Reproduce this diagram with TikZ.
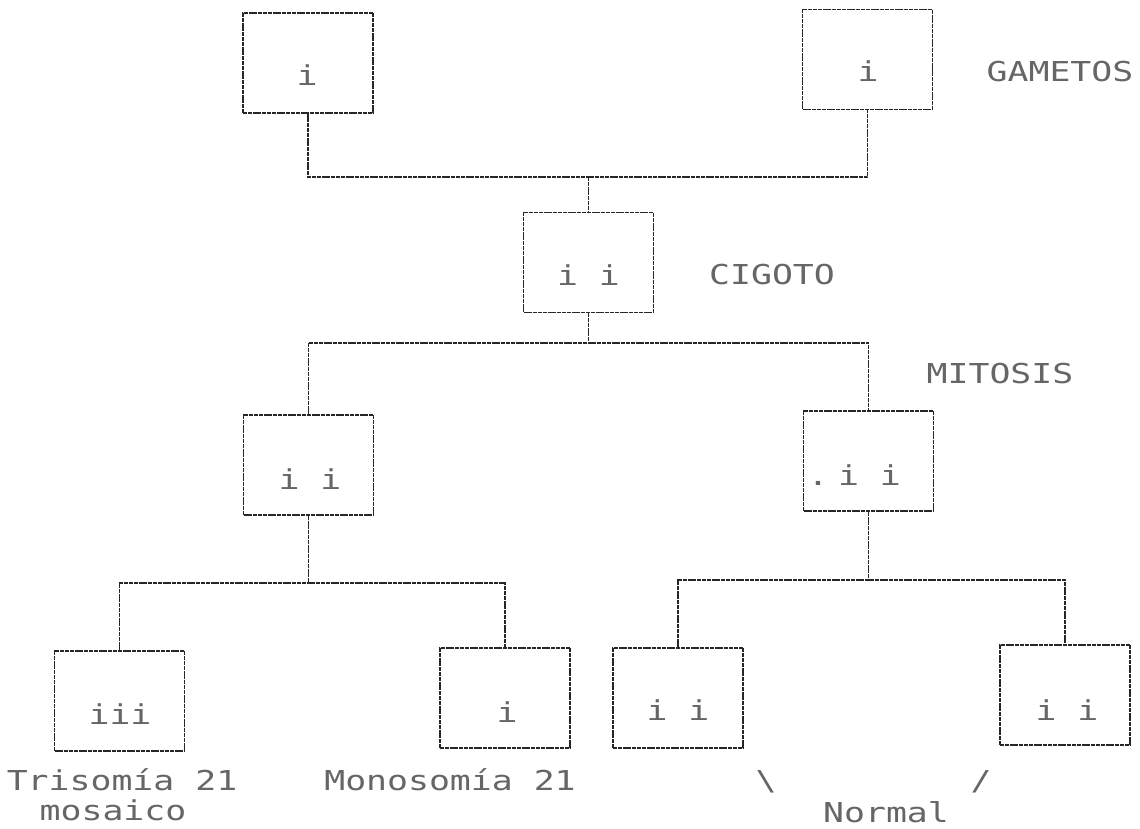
\documentclass[tikz,border=0pt]{standalone}
\usepackage{fontspec}
\usepackage{graphicx}
\newfontfamily\dmfont{DejaVu Sans Mono}
\newcommand{\dmtxt}[1]{\scalebox{1.27}[1]{\dmfont\fontsize{13.7pt}{16pt}\selectfont #1}}
\begin{document}
\begin{tikzpicture}[x=0.5pt,y=-0.5pt,
  cellbox/.style={draw=black!85, line width=0.7pt, dash pattern=on 2pt off 0.4pt, inner sep=0pt, minimum width=65pt, minimum height=50pt},
  wire/.style={draw=black!85, line width=0.7pt, dash pattern=on 2pt off 0.4pt},
  lbl/.style={inner sep=0pt, anchor=base, text=black!60}]
\fill[white] (0,0) rectangle (1140,829);
\useasboundingbox (0,0) rectangle (1140,829);

% boxes
\node[cellbox] (g1) at (308,63) {};
\node[cellbox] (g2) at (867.5,59.5) {};
\node[cellbox] (z) at (588.5,262.5) {};
\node[cellbox] (m1) at (308.5,465) {};
\node[cellbox] (m2) at (868.5,461) {};
\node[cellbox] (c1) at (119.5,701) {};
\node[cellbox] (c2) at (505,698) {};
\node[cellbox] (c3) at (678,698) {};
\node[cellbox] (c4) at (1065,695) {};

% junctions
\coordinate (jg) at (588.5,177);
\coordinate (jz) at (588.5,343);
\coordinate (jm1) at (308.5,583);
\coordinate (jm2) at (868.5,580);

% connectors
\draw[wire] (g1.south) |- (jg) -| (g2.south);
\draw[wire] (jg) -- (z.north);
\draw[wire] (z.south) -- (jz);
\draw[wire] (m1.north) |- (jz) -| (m2.north);
\draw[wire] (m1.south) -- (jm1);
\draw[wire] (c1.north) |- (jm1) -| (c2.north);
\draw[wire] (m2.south) -- (jm2);
\draw[wire] (c3.north) |- (jm2) -| (c4.north);

% chromosome marks
\node[lbl] (tg1) at (307,86) {\dmtxt{i}};
\node[lbl] (tg2) at (868,82) {\dmtxt{i}};
\node[lbl] (tz) at (588.5,285) {\dmtxt{i i}};
\node[lbl] (tm1) at (310,489) {\dmtxt{i i}};
\node[lbl] (tdot) at (818,485) {\dmtxt{.}};
\node[lbl] (tm2) at (869.5,485) {\dmtxt{i i}};
\node[lbl] (tc1) at (120,724) {\dmtxt{iii}};
\node[lbl] (tc2) at (507,722) {\dmtxt{i}};
\node[lbl] (tc3) at (678,720) {\dmtxt{i i}};
\node[lbl] (tc4) at (1067,720) {\dmtxt{i i}};

% labels
\node[lbl] (lgam) at (1060,82) {\dmtxt{GAMETOS}};
\node[lbl] (lcig) at (772,284) {\dmtxt{CIGOTO}};
\node[lbl] (lmit) at (1000,383) {\dmtxt{MITOSIS}};
\node[lbl] (ltri) at (122,790) {\dmtxt{Trisomía 21}};
\node[lbl] (lmos) at (113,820) {\dmtxt{mosaico}};
\node[lbl] (lmon) at (450,790) {\dmtxt{Monosomía 21}};
\node[lbl] (lbs) at (766,790) {\dmtxt{\textbackslash}};
\node[lbl] (lsl) at (981,790) {\dmtxt{/}};
\node[lbl] (lnor) at (886,822) {\dmtxt{Normal}};
\end{tikzpicture}
\end{document}
